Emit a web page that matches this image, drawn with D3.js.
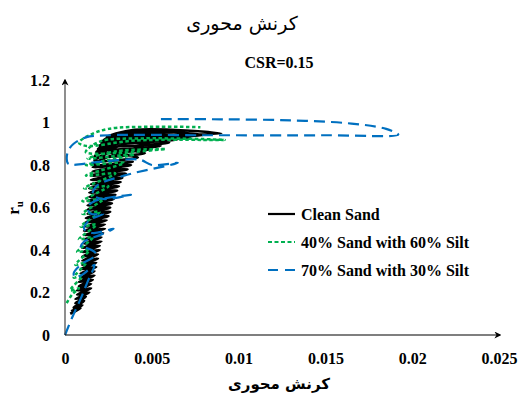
<!DOCTYPE html>
<html>
<head>
<meta charset="utf-8">
<script src="https://cdn.jsdelivr.net/npm/d3@7"></script>
<style>
  body { margin: 0; background: #fff; }
  text { font-family: "Liberation Serif", "Times New Roman", serif; }
  .fa { font-family: "DejaVu Sans", sans-serif; }
</style>
</head>
<body>
<script>
'use strict';

// tick values / labels
const xTicks = [0, 0.005, 0.01, 0.015, 0.02, 0.025];
const xTickLabels = ["0", "0.005", "0.01", "0.015", "0.02", "0.025"];
const yTicks = [0, 0.2, 0.4, 0.6, 0.8, 1, 1.2];
const yTickLabels = ["0", "0.2", "0.4", "0.6", "0.8", "1", "1.2"];

const seriesNames = ["Clean Sand", "40% Sand with 60% Silt", "70% Sand with 30% Silt"];

// [axial strain, ru]
const cleanSand = [
  [0.0003,0.10],[0.0009,0.125],
  [0.0004,0.115],[0.0010,0.14],
  [0.0005,0.13],[0.0011,0.16],
  [0.0006,0.15],[0.0012,0.18],
  [0.0006,0.17],[0.0014,0.20],
  [0.0007,0.19],[0.0015,0.22],
  [0.0007,0.21],[0.0015,0.24],
  [0.0008,0.23],[0.0016,0.26],
  [0.0008,0.25],[0.0017,0.28],
  [0.0009,0.27],[0.0017,0.30],
  [0.0009,0.29],[0.0018,0.32],
  [0.0009,0.31],[0.0018,0.34],
  [0.0010,0.33],[0.0019,0.36],
  [0.0010,0.35],[0.0019,0.38],
  [0.0010,0.37],[0.0020,0.40],
  [0.0010,0.39],[0.0020,0.42],
  [0.0010,0.41],[0.0021,0.44],
  [0.0011,0.43],[0.0021,0.46],
  [0.0011,0.45],[0.0022,0.48],
  [0.0011,0.47],[0.0023,0.50],
  [0.0011,0.49],[0.0023,0.52],
  [0.0012,0.51],[0.0024,0.54],
  [0.0012,0.53],[0.0025,0.56],
  [0.0012,0.55],[0.0026,0.58],
  [0.0013,0.57],[0.0026,0.60],
  [0.0013,0.59],[0.0027,0.62],
  [0.0013,0.61],[0.0028,0.64],
  [0.0013,0.63],[0.0029,0.66],
  [0.0014,0.65],[0.0030,0.68],
  [0.0014,0.67],[0.0031,0.70],
  [0.0014,0.69],[0.0032,0.72],
  [0.0015,0.71],[0.0033,0.74],
  [0.0015,0.73],[0.0035,0.76],
  [0.0015,0.75],[0.0036,0.78],
  [0.0016,0.77],[0.0038,0.80],
  [0.0016,0.79],[0.0039,0.815],
  [0.0016,0.80],[0.0030,0.85],[0.0042,0.835],
  [0.0017,0.82],[0.0030,0.87],[0.0046,0.855],
  [0.0017,0.84],[0.0032,0.89],[0.0050,0.875],
  [0.0018,0.86],[0.0033,0.905],[0.0055,0.89],
  [0.0019,0.875],[0.0034,0.92],[0.0060,0.905],
  [0.0020,0.89],[0.0035,0.935],[0.0065,0.92],
  [0.0021,0.905],[0.0036,0.945],[0.0072,0.93],
  [0.0022,0.915],[0.0038,0.955],[0.0080,0.94],
  [0.0024,0.93],[0.0040,0.965],[0.0090,0.948],
  [0.0030,0.935]
];

const sand40 = [
  [0.0001,0.15],[0.0004,0.19],[0.0008,0.22],
  [0.0003,0.21],[0.0010,0.28],
  [0.0005,0.27],[0.0012,0.34],
  [0.0006,0.33],[0.0014,0.40],
  [0.0007,0.39],[0.0016,0.46],
  [0.0008,0.45],[0.0018,0.52],
  [0.0009,0.51],[0.0020,0.58],
  [0.0010,0.57],[0.0022,0.64],
  [0.0010,0.63],[0.0025,0.70],
  [0.0011,0.69],[0.0029,0.76],
  [0.0012,0.75],[0.0034,0.81],
  [0.0012,0.80],[0.0040,0.85],
  [0.0013,0.83],[0.0030,0.865],[0.0058,0.875],
  [0.0012,0.86],[0.0020,0.91],[0.0045,0.925],[0.0092,0.918],
  [0.0040,0.915],[0.0012,0.89],[0.0008,0.905],[0.0014,0.94],
  [0.0025,0.97],[0.0050,0.98],[0.0078,0.978]
];

const sand70 = [
  [0,0],[0.0004,0.08],[0.0009,0.17],[0.0013,0.25],[0.0017,0.33],
  [0.0011,0.29],[0.0006,0.27],[0.0005,0.29],[0.0009,0.33],[0.0018,0.38],
  [0.0012,0.41],[0.0009,0.41],[0.0011,0.44],[0.0020,0.47],[0.0028,0.50],
  [0.0016,0.48],[0.0011,0.50],[0.0014,0.54],[0.0022,0.57],
  [0.0015,0.57],[0.0013,0.60],[0.0017,0.63],[0.0038,0.66],
  [0.0022,0.64],[0.0016,0.66],[0.0018,0.70],[0.0034,0.75],[0.0065,0.81],
  [0.0050,0.80],[0.0043,0.825],[0.0020,0.815],[0.0002,0.805],
  [0.0001,0.83],[0.0002,0.87],[0.0005,0.90],[0.0012,0.93],[0.0025,0.94],[0.0080,0.94],
  [0.0150,0.94],[0.0192,0.943],
  [0.0185,0.97],[0.0165,0.995],[0.0130,1.01],[0.0090,1.015],[0.0055,1.016]
];

const width = 521, height = 397;

const svg = d3.select("body").append("svg")
    .attr("width", width)
    .attr("height", height);

const x = d3.scaleLinear().domain([0, 0.025]).range([65, 499]);
const y = d3.scaleLinear().domain([0, 1.2]).range([335, 80]);

svg.append("defs").append("marker")
    .attr("id", "arrow")
    .attr("viewBox", "0 0 10 10")
    .attr("refX", 8).attr("refY", 5)
    .attr("markerWidth", 7).attr("markerHeight", 7)
    .attr("markerUnits", "userSpaceOnUse")
    .attr("orient", "auto")
  .append("path")
    .attr("d", "M0,0 L10,5 L0,10 L3,5 Z")
    .attr("fill", "#000");

// titles
svg.append("text")
    .attr("class", "fa")
    .attr("x", 242).attr("y", 30)
    .attr("text-anchor", "middle")
    .style("font-size", "19px")
    .text("کرنش محوری");

svg.append("text")
    .attr("x", 279).attr("y", 68)
    .attr("text-anchor", "middle")
    .style("font-size", "16px").style("font-weight", "bold")
    .text("CSR=0.15");

// axes
const xAxis = d3.axisBottom(x).tickValues(xTicks).tickSize(0).tickPadding(18)
    .tickFormat((d, i) => xTickLabels[i]);
const yAxis = d3.axisLeft(y).tickValues(yTicks).tickSize(0).tickPadding(15)
    .tickFormat((d, i) => yTickLabels[i]);

const gx = svg.append("g").attr("transform", `translate(0,${y(0)})`).call(xAxis);
const gy = svg.append("g").attr("transform", `translate(${x(0)},0)`).call(yAxis);
[gx, gy].forEach(g => {
  g.select(".domain").remove();
  g.selectAll("text")
      .style("font-family", '"Liberation Serif", serif')
      .style("font-size", "16px").style("font-weight", "bold")
      .attr("fill", "#000");
});

// series
const line = d3.line()
    .x(d => x(d[0]))
    .y(d => y(d[1]))
    .curve(d3.curveCatmullRom.alpha(0.5));

const series = [
  { data: cleanSand, color: "#000000", w: 2.7, dash: null },
  { data: sand40, color: "#00B050", w: 2.5, dash: "3.5,2.5" },
  { data: sand70, color: "#0070C0", w: 2.2, dash: "11,6" }
];

svg.append("g").selectAll("path")
  .data(series)
  .join("path")
    .attr("d", d => line(d.data))
    .attr("fill", "none")
    .attr("stroke", d => d.color)
    .attr("stroke-width", d => d.w)
    .attr("stroke-dasharray", d => d.dash)
    .attr("stroke-linejoin", "round");

svg.append("line")
    .attr("x1", x(0)).attr("y1", y(0))
    .attr("x2", x(0)).attr("y2", y(1.2))
    .attr("stroke", "#444").attr("stroke-width", 1.2)
    .attr("marker-end", "url(#arrow)");
svg.append("line")
    .attr("x1", x(0)).attr("y1", y(0))
    .attr("x2", x(0.025) + 1).attr("y2", y(0))
    .attr("stroke", "#000").attr("stroke-width", 1.2)
    .attr("marker-end", "url(#arrow)");

// axis titles
svg.append("text")
    .attr("class", "fa")
    .attr("x", 279).attr("y", 389)
    .attr("text-anchor", "middle")
    .style("font-size", "15px").style("font-weight", "bold")
    .text("کرنش محوری");

const yl = svg.append("text")
    .attr("transform", "translate(19,208) rotate(-90)")
    .attr("text-anchor", "middle")
    .style("font-size", "17px").style("font-weight", "bold");
yl.append("tspan").text("r");
yl.append("tspan").attr("dy", 4).style("font-size", "11px").text("u");

// legend
const legend = svg.append("g");
const legRows = legend.selectAll("g")
  .data(series)
  .join("g")
    .attr("transform", (d, i) => `translate(268,${[214, 242, 270][i]})`);
legRows.append("line")
    .attr("x1", 0).attr("x2", 27)
    .attr("stroke", d => d.color)
    .attr("stroke-width", 2.2)
    .attr("stroke-dasharray", (d, i) => [null, "4,2.5", "10,7"][i]);
legRows.append("text")
    .attr("x", 33).attr("dy", "0.35em")
    .style("font-size", "16px").style("font-weight", "bold")
    .text((d, i) => seriesNames[i]);
</script>
</body>
</html>
